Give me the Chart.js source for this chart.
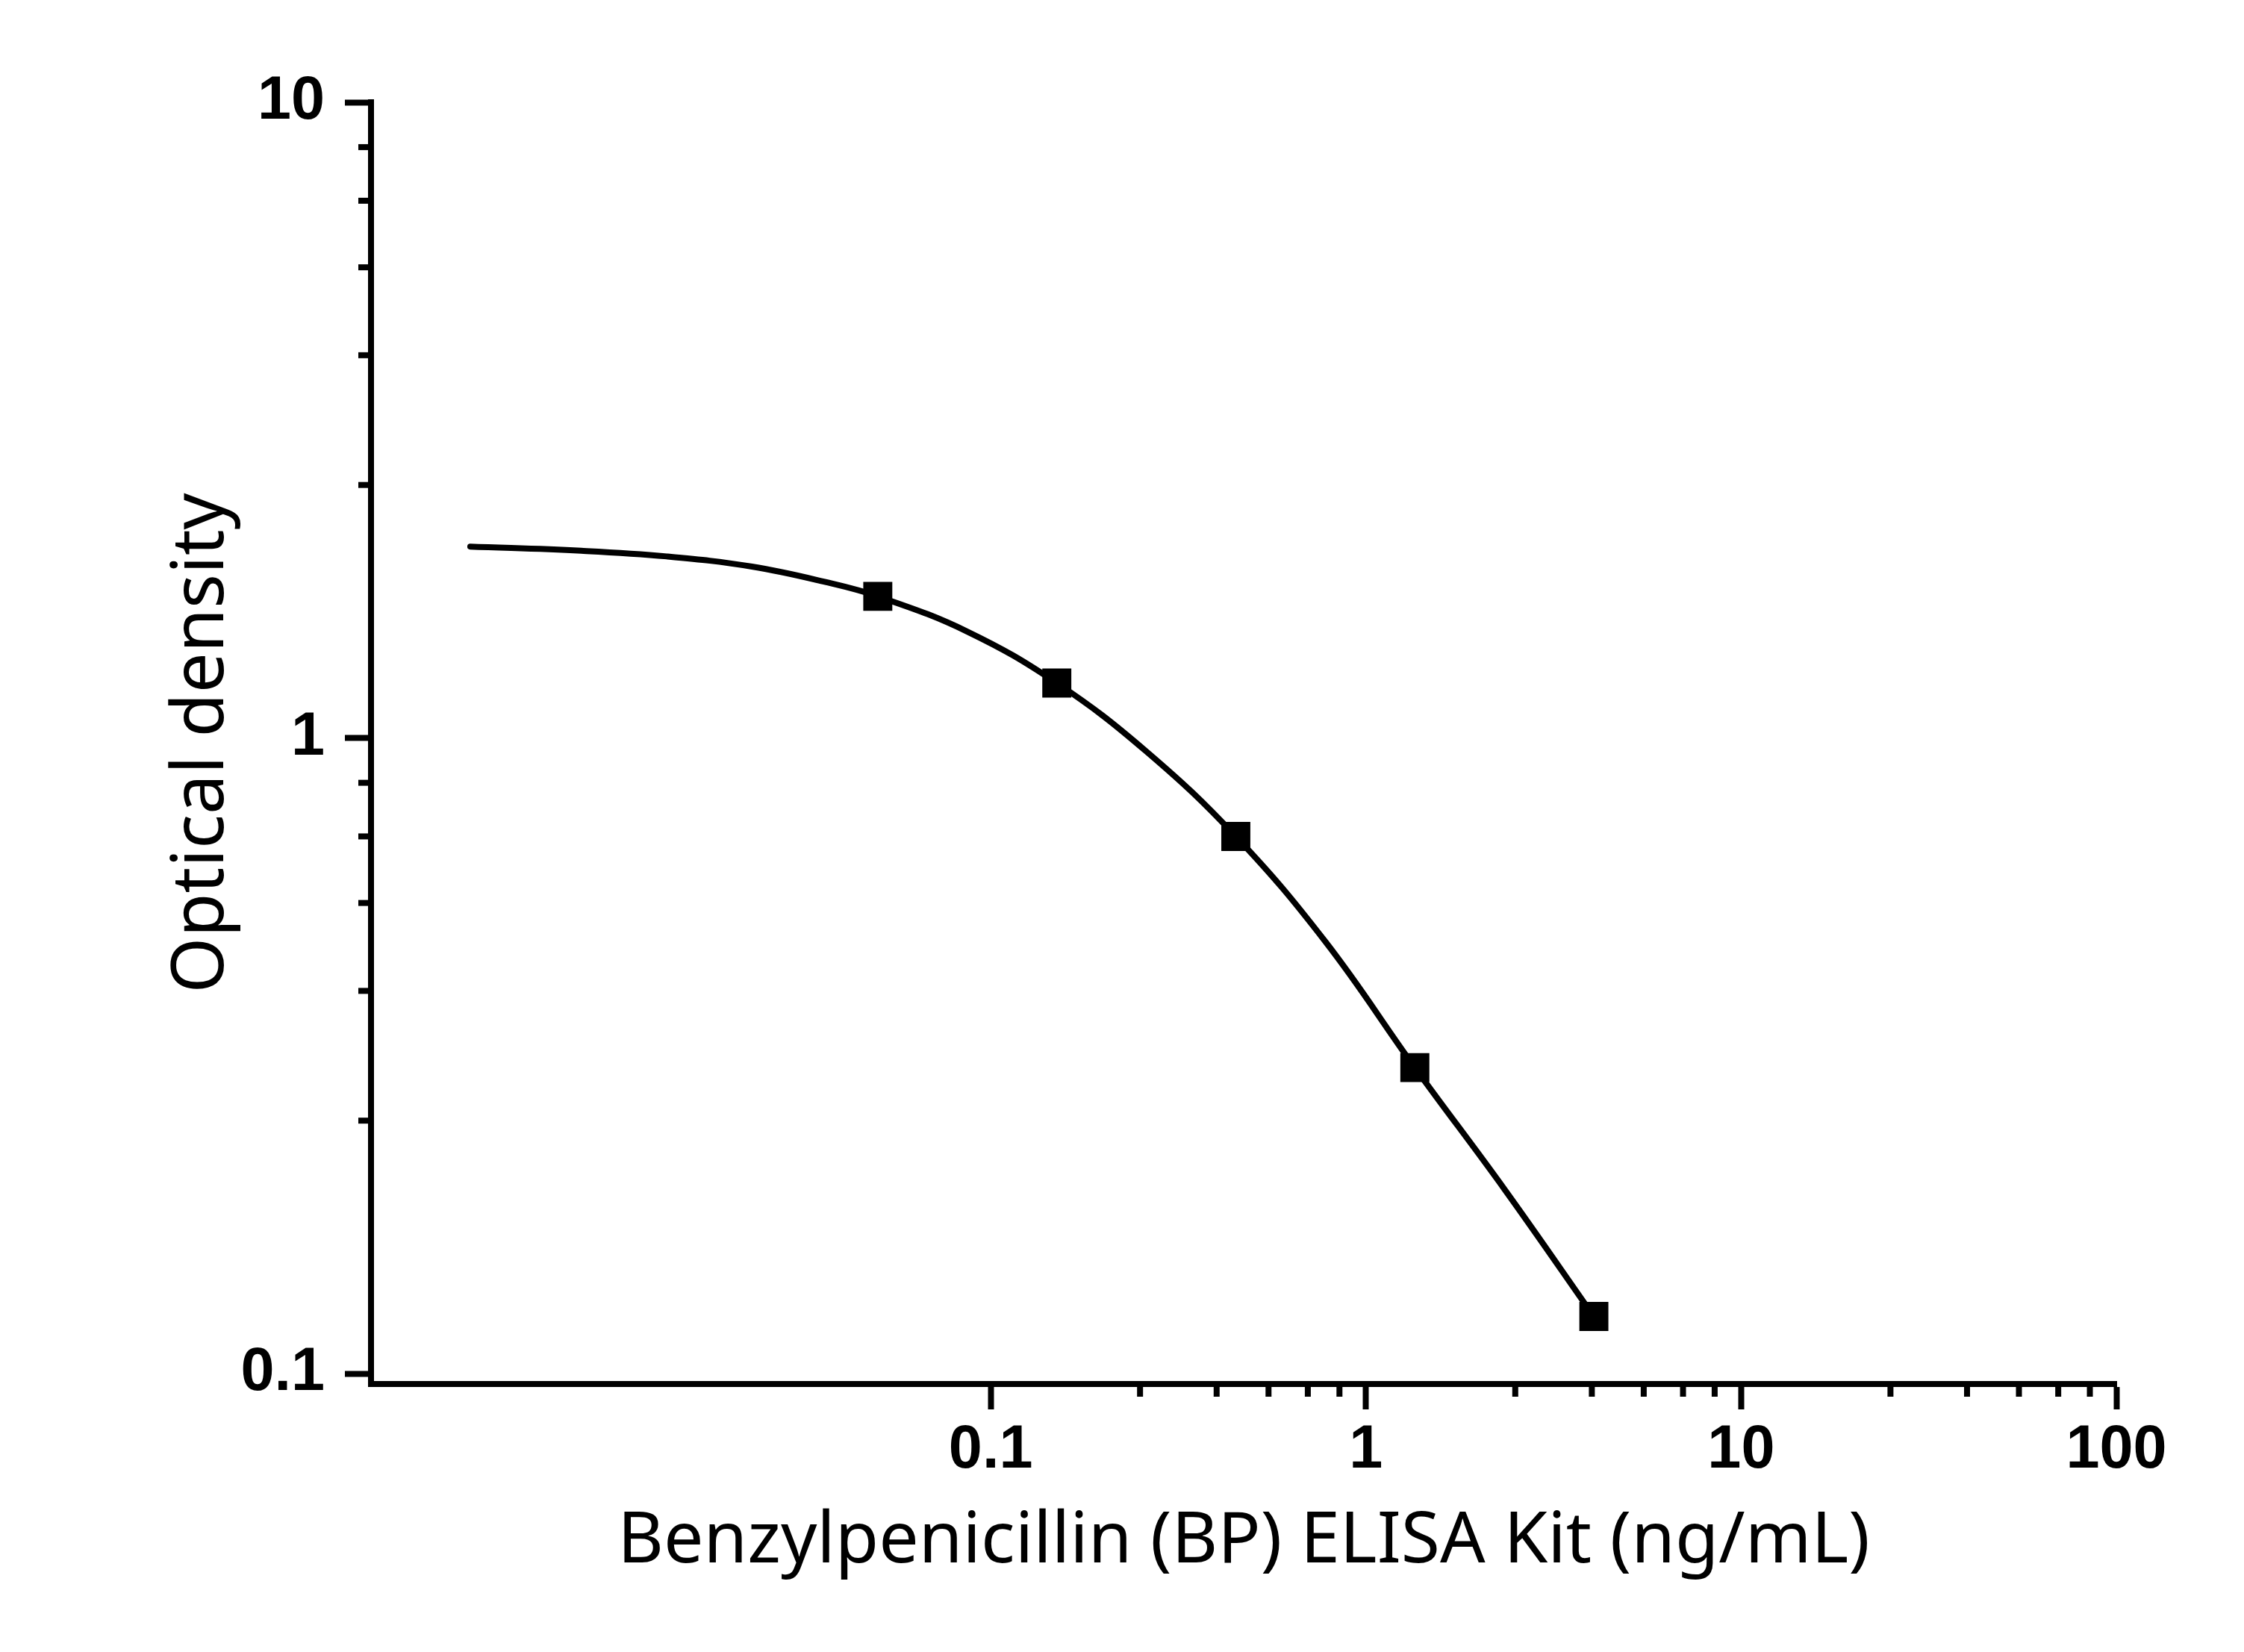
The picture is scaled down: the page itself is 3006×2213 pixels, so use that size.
<!DOCTYPE html>
<html>
<head>
<meta charset="utf-8">
<title>Benzylpenicillin (BP) ELISA Kit</title>
<script src="https://cdn.jsdelivr.net/npm/chart.js@4/dist/chart.umd.min.js"></script>
<style>
  html, body { margin: 0; padding: 0; background: #fff; }
  canvas { display: block; }
</style>
</head>
<body>
<canvas id="grafico" width="3006" height="2213"></canvas>
<script>
// puntos del estandar (ng/mL -> OD)
const concentraciones = [0.05, 0.15, 0.45, 1.35, 4.05]
const densidades = [1.67, 1.22, 0.70, 0.303, 0.123]

// curva ajustada
const curvaX = [0.0041, 0.0081, 0.0137, 0.0231, 0.0361, 0.05, 0.0866, 0.15, 0.26, 0.45, 0.78, 1.35, 2.34, 4.05]
const curvaY = [2.00, 1.97, 1.93, 1.86, 1.76, 1.67, 1.47, 1.22, 0.952, 0.70, 0.478, 0.303, 0.195, 0.123]

// ticks
const xMayores = [0.1, 1, 10, 100]
const xMenores = [0.25, 0.4, 0.55, 0.7, 0.85, 2.5, 4, 5.5, 7, 8.5, 25, 40, 55, 70, 85]
const yMayores = [0.1, 1, 10]
const yMenores = [0.25, 0.4, 0.55, 0.7, 0.85, 2.5, 4, 5.5, 7, 8.5]

const fuenteTicks = { family: 'Liberation Sans', weight: 'bold', size: 81 }

// ticks menores, mas cortos que los mayores
const ticksMenores = {
  id: 'ticksMenores',
  afterDraw(chart) {
    const ctx = chart.ctx
    const { x, y } = chart.scales
    const area = chart.chartArea
    ctx.save()
    ctx.strokeStyle = '#000'
    ctx.lineWidth = 8
    xMenores.forEach(v => {
      const px = x.getPixelForValue(v)
      ctx.beginPath()
      ctx.moveTo(px, area.bottom)
      ctx.lineTo(px, area.bottom + 17)
      ctx.stroke()
    })
    yMenores.forEach(v => {
      const py = y.getPixelForValue(v)
      ctx.beginPath()
      ctx.moveTo(area.left, py)
      ctx.lineTo(area.left - 17, py)
      ctx.stroke()
    })
    ctx.restore()
  }
}

const data = {
  datasets: [
    {
      type: 'scatter',
      label: 'Estandar',
      data: concentraciones.map((c, i) => ({ x: c, y: densidades[i] })),
      pointStyle: 'rect',
      pointRadius: 27.5,
      pointBorderWidth: 0,
      backgroundColor: '#000'
    },
    {
      type: 'line',
      label: 'Ajuste',
      data: curvaX.map((c, i) => ({ x: c, y: curvaY[i] })),
      borderColor: '#000',
      borderWidth: 8,
      borderCapStyle: 'round',
      tension: 0.4,
      pointRadius: 0,
      fill: false
    }
  ]
}

const config = {
  data: data,
  options: {
    responsive: false,
    devicePixelRatio: 1,
    animation: false,
    layout: { padding: { left: 0, right: 171, top: 137, bottom: 0 } },
    plugins: { legend: { display: false }, tooltip: { enabled: false } },
    scales: {
      x: {
        type: 'logarithmic',
        position: 'bottom',
        min: 0.00223,
        max: 100,
        afterBuildTicks: scale => { scale.ticks = xMayores.map(v => ({ value: v })) },
        afterFit: scale => { scale.height = 359 },
        ticks: {
          autoSkip: false,
          maxRotation: 0,
          padding: 7,
          color: '#000',
          font: fuenteTicks,
          callback: value => String(value)
        },
        grid: {
          drawOnChartArea: false,
          drawTicks: true,
          tickLength: 34,
          tickWidth: 8,
          tickColor: '#000'
        },
        border: { display: true, width: 8, color: '#000' },
        title: {
          display: true,
          text: 'Benzylpenicillin (BP) ELISA Kit (ng/mL)',
          color: '#000',
          font: { family: 'Noto Sans', size: 95, lineHeight: 1 },
          padding: { top: 0, bottom: 100 }
        }
      },
      y: {
        type: 'logarithmic',
        position: 'left',
        min: 0.0963,
        max: 10,
        afterBuildTicks: scale => { scale.ticks = yMayores.map(v => ({ value: v })) },
        afterFit: scale => { scale.width = 497 },
        ticks: {
          autoSkip: false,
          padding: 27,
          color: '#000',
          font: fuenteTicks,
          callback: value => String(value)
        },
        grid: {
          drawOnChartArea: false,
          drawTicks: true,
          tickLength: 35,
          tickWidth: 8,
          tickColor: '#000'
        },
        border: { display: true, width: 8, color: '#000' },
        title: {
          display: true,
          text: 'Optical density',
          color: '#000',
          font: { family: 'Noto Sans', size: 96, lineHeight: 1 },
          padding: { top: 224, bottom: 0 }
        }
      }
    }
  },
  plugins: [ticksMenores]
}

const grafico = new Chart(document.getElementById('grafico'), config)
</script>
</body>
</html>
